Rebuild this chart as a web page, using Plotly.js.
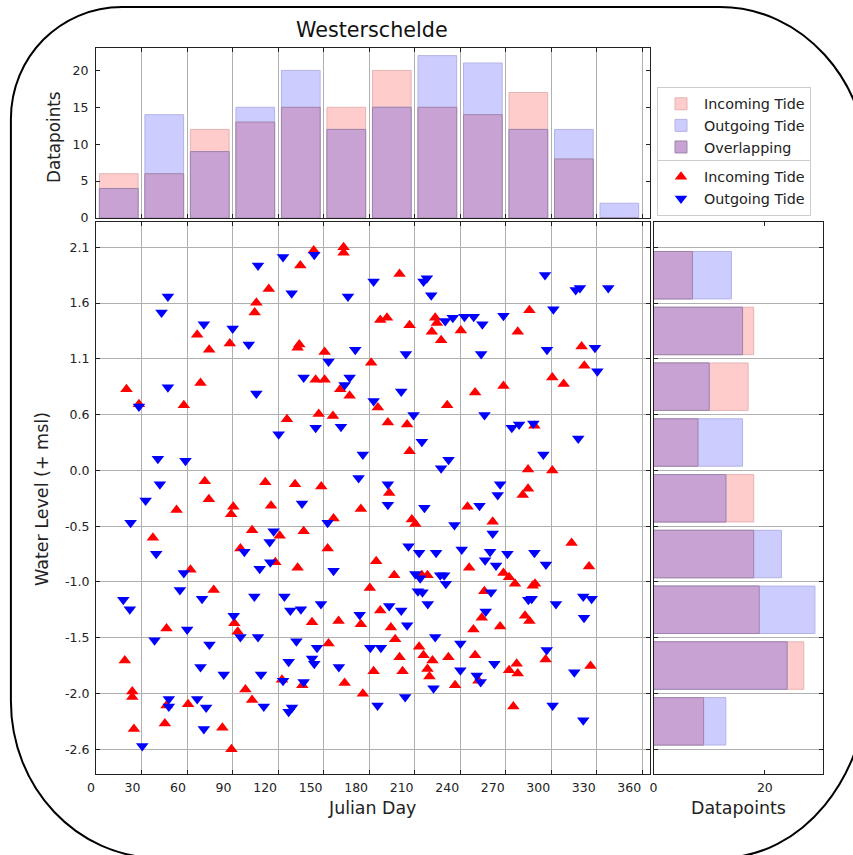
<!DOCTYPE html>
<html>
<head>
<meta charset="utf-8">
<script src="https://cdn.plot.ly/plotly-3.0.1.min.js"></script>
<style>html,body{margin:0;padding:0;background:#fff;}#chart{width:853px;height:855px;}</style>
</head>
<body>
<div id="chart"></div>
<script>
// ---------------- data ----------------
const dayTicks = [0, 30, 60, 90, 120, 150, 180, 210, 240, 270, 300, 330, 360];
const dayTickLabels = ['0', '30', '60', '90', '120', '150', '180', '210', '240', '270', '300', '330', '360'];
const levelMin = -2.6;
const levelMax = 2.1;
const levelTickLabels = ['-2.6', '-2.0', '-1.5', '-1.0', '-0.5', '0.0', '0.6', '1.1', '1.6', '2.1'];
const countTicksTop = [0, 5, 10, 15, 20];
const countTicksSide = [0, 20];

// histogram counts per 30-day bin (0-30 ... 330-360)
const topIncoming = [6, 6, 12, 13, 15, 15, 20, 15, 14, 17, 8, 0];
const topOutgoing = [4, 14, 9, 15, 20, 12, 15, 22, 21, 12, 12, 2];
// histogram counts per water-level bin (lowest bin first)
const sideIncoming = [9, 27, 19, 18, 18, 8, 17, 18, 7];
const sideOutgoing = [13, 24, 29, 23, 13, 16, 10, 16, 14];

// incoming tide points
const incomingDay = [
 143.5,163.2,163.2,134.7,113.9,105.7,104.6,66.7,74.6,88.2,134.0,132.9,150.7,20.1,28.3,68.9,57.9,144.8,150.7,161.0,167.2,125.9,146.8,156.2,71.7,111.6,131.2,148.5,
 200.1,187.4,191.8,206.7,223.6,224.7,221.4,227.5,240.5,285.7,278.0,320.1,321.9,181.4,300.8,308.3,268.6,249.9,231.5,185.8,192.4,205.1,289.0,206.7,284.8,300.8,193.3,284.8,281.3,
 74.4,53.1,90.5,89.1,115.4,174.6,156.6,102.9,121.1,136.9,37.5,95.2,152.7,118.2,132.9,62.3,77.6,46.5,91.2,93.4,142.4,159.9,174.6,153.3,19.0,122.6,136.0,163.9,175.9,98.5,102.9,23.9,23.9,46.5,60.7,25.0,45.4,83.3,89.3,
 244.9,208.2,210.5,261.5,313.5,184.7,246.0,196.6,214.8,218.5,268.6,272.3,276.2,289.4,287.9,325.0,180.5,256.0,187.4,254.3,282.8,285.7,194.4,248.8,266.4,197.2,213.0,215.9,200.1,221.8,232.3,249.9,218.5,219.8,183.0,202.1,236.7,252.1,272.3,277.3,278.0,296.4,326.0,275.1
];
const incomingLevel = [
 2.07,2.10,2.05,1.93,1.71,1.58,1.49,1.28,1.14,1.20,1.19,1.16,1.12,0.77,0.63,0.83,0.62,0.86,0.86,0.77,0.71,0.49,0.54,0.52,-0.09,-0.10,-0.12,-0.14,
 1.85,1.42,1.44,1.37,1.44,1.39,1.31,1.23,1.32,1.51,1.31,1.17,0.99,1.02,0.88,0.82,0.80,0.74,0.62,0.60,0.46,0.44,0.43,0.19,0.02,0.01,-0.20,-0.16,-0.22,
 -0.26,-0.36,-0.33,-0.40,-0.32,-0.35,-0.44,-0.55,-0.60,-0.56,-0.62,-0.72,-0.72,-0.85,-0.90,-0.92,-1.11,-1.47,-1.42,-1.50,-1.41,-1.40,-1.43,-1.61,-1.77,-1.95,-2.00,-1.98,-2.08,-2.04,-2.14,-2.06,-2.11,-2.19,-2.18,-2.41,-2.36,-2.40,-2.60,
 -0.33,-0.45,-0.49,-0.47,-0.67,-0.84,-0.90,-0.97,-0.97,-0.97,-0.95,-0.99,-1.05,-1.05,-1.07,-0.89,-1.09,-1.12,-1.30,-1.37,-1.35,-1.40,-1.46,-1.48,-1.45,-1.57,-1.64,-1.72,-1.74,-1.77,-1.74,-1.72,-1.85,-1.92,-1.87,-1.87,-2.00,-1.96,-1.86,-1.80,-1.89,-1.76,-1.82,-2.20
];

// outgoing tide points
const outgoingDay = [
 143.9,123.3,106.8,47.4,43.2,129.0,166.1,71.1,90.1,100.7,153.3,170.9,47.4,105.7,136.9,167.2,163.9,28.3,120.4,144.8,161.5,175.9,40.8,59.0,42.1,173.1,
 183.0,215.9,218.1,221.0,296.0,316.2,319.0,337.7,301.5,230.2,235.2,242.9,249.0,254.7,268.6,204.3,253.9,297.3,328.9,330.5,201.2,183.0,209.3,256.1,274.1,278.9,288.3,317.9,214.8,232.4,227.5,294.9,192.4,266.4,264.8,
 32.7,135.8,22.8,152.7,117.1,114.5,39.7,97.8,114.9,107.9,156.6,57.9,55.3,69.9,104.4,124.2,128.1,135.1,148.3,18.0,22.3,173.8,90.8,95.2,106.8,60.1,38.6,74.8,132.1,145.7,142.4,143.9,127.0,68.9,84.2,108.8,160.1,123.3,136.9,48.0,48.0,66.7,72.6,110.6,129.2,127.0,71.1,30.5,
 192.4,216.5,252.8,236.3,261.5,206.0,213.0,224.2,241.1,259.8,256.5,263.7,271.2,289.0,296.6,210.5,213.7,226.9,229.5,230.6,212.2,215.2,218.7,260.4,285.0,287.2,303.2,321.2,326.7,321.7,193.3,201.2,205.1,256.9,223.6,240.2,180.8,187.8,297.1,262.6,240.2,251.0,253.6,315.3,222.5,203.8,185.6,301.0,321.2
];
const outgoingLevel = [
 2.03,2.01,1.93,1.64,1.49,1.67,1.64,1.38,1.34,1.19,1.03,1.14,0.79,0.73,0.88,0.88,0.81,0.61,0.35,0.41,0.42,0.16,0.12,0.10,-0.12,-0.06,
 1.78,1.78,1.81,1.65,1.84,1.70,1.72,1.72,1.52,1.41,1.44,1.45,1.45,1.38,1.46,1.10,1.10,1.14,1.16,0.94,0.75,0.66,0.53,0.53,0.41,0.44,0.45,0.31,0.28,0.11,0.03,0.16,-0.12,-0.12,-0.22,
 -0.27,-0.30,-0.48,-0.48,-0.56,-0.66,-0.77,-0.75,-0.85,-0.91,-0.93,-0.95,-1.11,-1.19,-1.17,-1.17,-1.30,-1.29,-1.24,-1.20,-1.29,-1.34,-1.35,-1.55,-1.55,-1.48,-1.58,-1.62,-1.59,-1.65,-1.75,-1.80,-1.78,-1.83,-1.90,-1.90,-1.83,-1.96,-1.97,-2.13,-2.20,-2.13,-2.21,-2.20,-2.21,-2.25,-2.41,-2.57,
 -0.31,-0.34,-0.32,-0.50,-0.58,-0.70,-0.76,-0.76,-0.73,-0.75,-0.83,-0.88,-0.77,-0.76,-0.87,-0.96,-1.00,-0.97,-0.97,-1.05,-1.12,-1.13,-1.24,-1.13,-1.20,-1.19,-1.24,-1.17,-1.19,-1.37,-1.26,-1.30,-1.44,-1.31,-1.55,-1.61,-1.65,-1.65,-1.67,-1.80,-1.86,-1.91,-1.97,-1.88,-2.03,-2.11,-2.19,-2.19,-2.33
];

// ---------------- derived bins ----------------
const nLevelBins = levelTickLabels.length - 1;
const levelStep = (levelMax - levelMin) / nLevelBins;
const levelEdges = levelTickLabels.map((_, i) => levelMin + i * levelStep);
const levelCenters = levelEdges.slice(0, -1).map(v => v + levelStep / 2);
const dayStep = dayTicks[1] - dayTicks[0];
const dayCenters = topIncoming.map((_, i) => dayTicks[i] + dayStep / 2);
const topOverlap = topIncoming.map((v, i) => Math.min(v, topOutgoing[i]));
const sideOverlap = sideIncoming.map((v, i) => Math.min(v, sideOutgoing[i]));
const levelPad = (levelMax - levelMin) * 0.05;

// ---------------- geometry ----------------
const W = 853, H = 855;
const fx = p => p / W;
const fy = p => 1 - p / H;
const mainX = [fx(96), fx(649.7)];
const mainY = [fy(774.3), fy(222.2)];
const topY = [fy(218), fy(47.5)];
const sideX = [fx(653.5), fx(823)];

const FONT = 'DejaVu Sans, Liberation Sans, sans-serif';
const TXT = '#222222';
const GRID = '#b0b0b0';
const LINE = '#222222';

const colIn = '#FFCCCC', colOut = '#CCCCFF', colOv = '#C9A2D4';
const edgeIn = '#E6B3B3', edgeOut = '#B3B3E6', edgeOv = '#9F85A8';
const barFrac = 0.85;

const traces = [
  {type:'bar', x: dayCenters, y: topIncoming, width: dayStep*barFrac, xaxis:'x2', yaxis:'y2',
   marker:{color: colIn, line:{color: edgeIn, width:1}}, name:'Incoming Tide', legend:'legend'},
  {type:'bar', x: dayCenters, y: topOutgoing, width: dayStep*barFrac, xaxis:'x2', yaxis:'y2',
   marker:{color: colOut, line:{color: edgeOut, width:1}}, name:'Outgoing Tide', legend:'legend'},
  {type:'bar', x: dayCenters, y: topOverlap, width: dayStep*barFrac, xaxis:'x2', yaxis:'y2',
   marker:{color: colOv, line:{color: edgeOv, width:1}}, name:'Overlapping', legend:'legend'},
  {type:'bar', orientation:'h', y: levelCenters, x: sideIncoming, width: levelStep*barFrac, xaxis:'x3', yaxis:'y3',
   marker:{color: colIn, line:{color: edgeIn, width:1}}, showlegend:false},
  {type:'bar', orientation:'h', y: levelCenters, x: sideOutgoing, width: levelStep*barFrac, xaxis:'x3', yaxis:'y3',
   marker:{color: colOut, line:{color: edgeOut, width:1}}, showlegend:false},
  {type:'bar', orientation:'h', y: levelCenters, x: sideOverlap, width: levelStep*barFrac, xaxis:'x3', yaxis:'y3',
   marker:{color: colOv, line:{color: edgeOv, width:1}}, showlegend:false},
  {type:'scatter', mode:'markers', x: incomingDay, y: incomingLevel, xaxis:'x', yaxis:'y',
   marker:{symbol:'triangle-up', size:11, color:'#ff0000', line:{width:0}}, name:'Incoming Tide', legend:'legend2'},
  {type:'scatter', mode:'markers', x: outgoingDay, y: outgoingLevel, xaxis:'x', yaxis:'y',
   marker:{symbol:'triangle-down', size:11, color:'#0000ff', line:{width:0}}, name:'Outgoing Tide', legend:'legend2'}
];

const tickFont = {family: FONT, size: 12.5, color: TXT};
const baseAxis = {
  showline:true, linecolor: LINE, linewidth:1, mirror:'allticks',
  ticks:'inside', ticklen:4, tickcolor: LINE, tickwidth:1,
  zeroline:false, gridcolor: GRID, gridwidth:1, tickfont: tickFont, fixedrange:true
};

// rounded frame path (pixel points converted to paper)
function P(x, y){ return fx(x).toFixed(5) + ',' + fy(y).toFixed(5); }
const framePath =
  'M' + P(122,7) + ' L' + P(720,7) +
  ' C' + P(801.7,7) + ' ' + P(868,80) + ' ' + P(868,170) +
  ' L' + P(868,678) +
  ' C' + P(868,777.4) + ' ' + P(801.7,858) + ' ' + P(720,858) +
  ' L' + P(158.9,858) +
  ' C' + P(77.2,858) + ' ' + P(10.9,787.7) + ' ' + P(10.9,701) +
  ' L' + P(10.9,119) +
  ' C' + P(10.9,57.1) + ' ' + P(60.1,7) + ' ' + P(122,7) + ' Z';

const legendFont = {family: FONT, size:14.3, color: TXT};

const layout = {
  width: W, height: H,
  margin: {l:0, r:0, t:0, b:0, pad:0},
  paper_bgcolor:'#ffffff', plot_bgcolor:'#ffffff',
  barmode:'overlay', bargap:0,
  font: {family: FONT, color: TXT},
  xaxis: Object.assign({}, baseAxis, {domain: mainX, anchor:'y', range:[0, 365],
    tickmode:'array', tickvals: dayTicks, ticktext: dayTickLabels, showgrid:true,
    ticklabelposition:'outside left', ticklabelstandoff:2}),
  yaxis: Object.assign({}, baseAxis, {domain: mainY, anchor:'x', range:[levelMin - levelPad, levelMax + levelPad],
    tickmode:'array', tickvals: levelEdges, ticktext: levelTickLabels, showgrid:true, ticklabelstandoff:3}),
  xaxis2: Object.assign({}, baseAxis, {domain: mainX, anchor:'y2', range:[0, 365],
    tickmode:'array', tickvals: dayTicks, showticklabels:false, showgrid:true}),
  yaxis2: Object.assign({}, baseAxis, {domain: topY, anchor:'x2', range:[0, 23.1],
    tickmode:'array', tickvals: countTicksTop, ticktext: countTicksTop.map(String), showgrid:false, ticklabelstandoff:4}),
  xaxis3: Object.assign({}, baseAxis, {domain: sideX, anchor:'y3', range:[0, 30.45],
    tickmode:'array', tickvals: countTicksSide, ticktext: countTicksSide.map(String), showgrid:false, ticklabelstandoff:2}),
  yaxis3: Object.assign({}, baseAxis, {domain: mainY, anchor:'x3', range:[levelMin - levelPad, levelMax + levelPad],
    tickmode:'array', tickvals: levelEdges, showticklabels:false, showgrid:true}),
  legend: {x: fx(657), y: fy(87), xanchor:'left', yanchor:'top', bgcolor:'#ffffff',
    bordercolor:'#cccccc', borderwidth:1, font: legendFont, itemwidth:36, traceorder:'normal', tracegroupgap:0},
  legend2: {x: fx(657), y: fy(160), xanchor:'left', yanchor:'top', bgcolor:'#ffffff',
    bordercolor:'#cccccc', borderwidth:1, font: legendFont, itemwidth:36, traceorder:'normal', tracegroupgap:0},
  annotations: [
    {text:'Westerschelde', xref:'paper', yref:'paper', x: fx(371.5), y: fy(30), xanchor:'center', yanchor:'middle',
     showarrow:false, font:{family: FONT, size:20.7, color:'#111'}},
    {text:'Datapoints', xref:'paper', yref:'paper', x: fx(54), y: fy(137), xanchor:'center', yanchor:'middle',
     textangle:-90, showarrow:false, font:{family: FONT, size:16.8, color: TXT}},
    {text:'Water Level (+ msl)', xref:'paper', yref:'paper', x: fx(42), y: fy(499), xanchor:'center', yanchor:'middle',
     textangle:-90, showarrow:false, font:{family: FONT, size:17.5, color: TXT}},
    {text:'Julian Day', xref:'paper', yref:'paper', x: fx(371.5), y: fy(808), xanchor:'center', yanchor:'middle',
     showarrow:false, font:{family: FONT, size:17.4, color: TXT}},
    {text:'Datapoints', xref:'paper', yref:'paper', x: fx(738), y: fy(808), xanchor:'center', yanchor:'middle',
     showarrow:false, font:{family: FONT, size:17.4, color: TXT}}
  ],
  shapes: [
    {type:'path', xref:'paper', yref:'paper', path: framePath, line:{color:'#000000', width:2}, fillcolor:'rgba(0,0,0,0)', layer:'above'}
  ]
};

Plotly.newPlot('chart', traces, layout, {displayModeBar:false, staticPlot:true});
</script>
</body>
</html>
